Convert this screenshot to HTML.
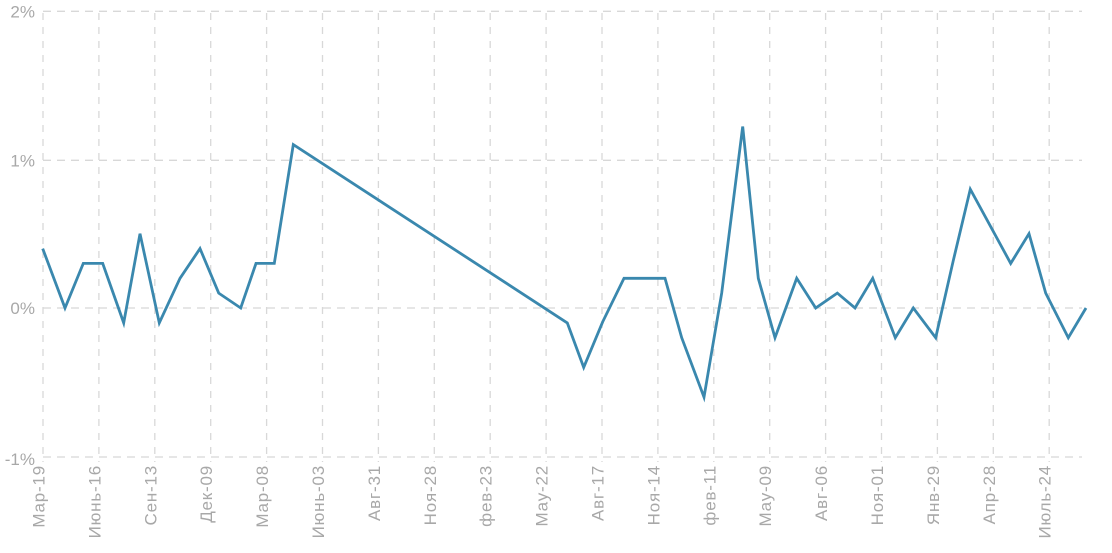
<!DOCTYPE html>
<html>
<head>
<meta charset="utf-8">
<style>
  html,body{margin:0;padding:0;background:#fff;}
  svg{display:block;}
  text{font-family:"Liberation Sans","DejaVu Sans",sans-serif;fill:#a8a8a8;}
</style>
</head>
<body>
<svg width="1112" height="553" viewBox="0 0 1112 553" xmlns="http://www.w3.org/2000/svg">
  <g stroke="#d8d8d8" stroke-width="1.3" stroke-dasharray="8,6" fill="none">
    <line x1="43" y1="11.3" x2="1082" y2="11.3"/>
    <line x1="43" y1="160.3" x2="1082" y2="160.3"/>
    <line x1="43" y1="308" x2="1082" y2="308"/>
    <line x1="43" y1="457" x2="1082" y2="457"/>
  </g>
  <g stroke="#d8d8d8" stroke-width="1.3" stroke-dasharray="7,7" fill="none">
    <line x1="43" y1="13" x2="43" y2="462"/>
    <line x1="98.9" y1="13" x2="98.9" y2="462"/>
    <line x1="154.8" y1="13" x2="154.8" y2="462"/>
    <line x1="210.7" y1="13" x2="210.7" y2="462"/>
    <line x1="266.6" y1="13" x2="266.6" y2="462"/>
    <line x1="322.5" y1="13" x2="322.5" y2="462"/>
    <line x1="378.4" y1="13" x2="378.4" y2="462"/>
    <line x1="434.3" y1="13" x2="434.3" y2="462"/>
    <line x1="490.2" y1="13" x2="490.2" y2="462"/>
    <line x1="546.1" y1="13" x2="546.1" y2="462"/>
    <line x1="602" y1="13" x2="602" y2="462"/>
    <line x1="657.9" y1="13" x2="657.9" y2="462"/>
    <line x1="713.8" y1="13" x2="713.8" y2="462"/>
    <line x1="769.7" y1="13" x2="769.7" y2="462"/>
    <line x1="825.6" y1="13" x2="825.6" y2="462"/>
    <line x1="881.5" y1="13" x2="881.5" y2="462"/>
    <line x1="937.4" y1="13" x2="937.4" y2="462"/>
    <line x1="993.3" y1="13" x2="993.3" y2="462"/>
    <line x1="1049.2" y1="13" x2="1049.2" y2="462"/>
  </g>

  <g font-size="17" text-anchor="end">
    <text x="35" y="17.5">2%</text>
    <text x="35" y="166.5">1%</text>
    <text x="35" y="314">0%</text>
    <text x="35" y="465">-1%</text>
  </g>

  <g font-size="17" text-anchor="end" letter-spacing="0.8">
    <text transform="translate(44.5,465) rotate(-90)">Мар-19</text>
    <text transform="translate(100.4,465) rotate(-90)">Июнь-16</text>
    <text transform="translate(156.3,465) rotate(-90)">Сен-13</text>
    <text transform="translate(212.2,465) rotate(-90)">Дек-09</text>
    <text transform="translate(268.1,465) rotate(-90)">Мар-08</text>
    <text transform="translate(324,465) rotate(-90)">Июнь-03</text>
    <text transform="translate(379.9,465) rotate(-90)">Авг-31</text>
    <text transform="translate(435.8,465) rotate(-90)">Ноя-28</text>
    <text transform="translate(491.7,465) rotate(-90)">фев-23</text>
    <text transform="translate(547.6,465) rotate(-90)">Мау-22</text>
    <text transform="translate(603.5,465) rotate(-90)">Авг-17</text>
    <text transform="translate(659.4,465) rotate(-90)">Ноя-14</text>
    <text transform="translate(715.3,465) rotate(-90)">фев-11</text>
    <text transform="translate(771.2,465) rotate(-90)">Мау-09</text>
    <text transform="translate(827.1,465) rotate(-90)">Авг-06</text>
    <text transform="translate(883,465) rotate(-90)">Ноя-01</text>
    <text transform="translate(938.9,465) rotate(-90)">Янв-29</text>
    <text transform="translate(994.8,465) rotate(-90)">Апр-28</text>
    <text transform="translate(1050.7,465) rotate(-90)">Июль-24</text>
  </g>

  <polyline fill="none" stroke="#3a88ae" stroke-width="2.8" stroke-linejoin="miter" stroke-miterlimit="4"
    points="42.7,248.6 65,308 83.3,263.4 102.7,263.4 123.7,322.9 140,233.7 159.3,322.9 180,278.3 200,248.6 218.7,293.1 240.7,308 256,263.4 274.3,263.4 293.3,144.6 567.3,322.9 583.7,367.4 602.7,321.8 624,278.3 665,278.3 681.7,337.7 704,397.1 721.7,293.1 742.7,126.5 758.3,278.3 775,337.7 796.7,278.3 815.7,308 837.3,293.1 855,308 872.7,278.3 895.3,337.7 913.3,308 935.7,337.7 953.3,260.5 970.3,189.2 1010.7,263.4 1029,233.7 1045.7,293.1 1068.3,337.7 1086,308"/>
</svg>
</body>
</html>
